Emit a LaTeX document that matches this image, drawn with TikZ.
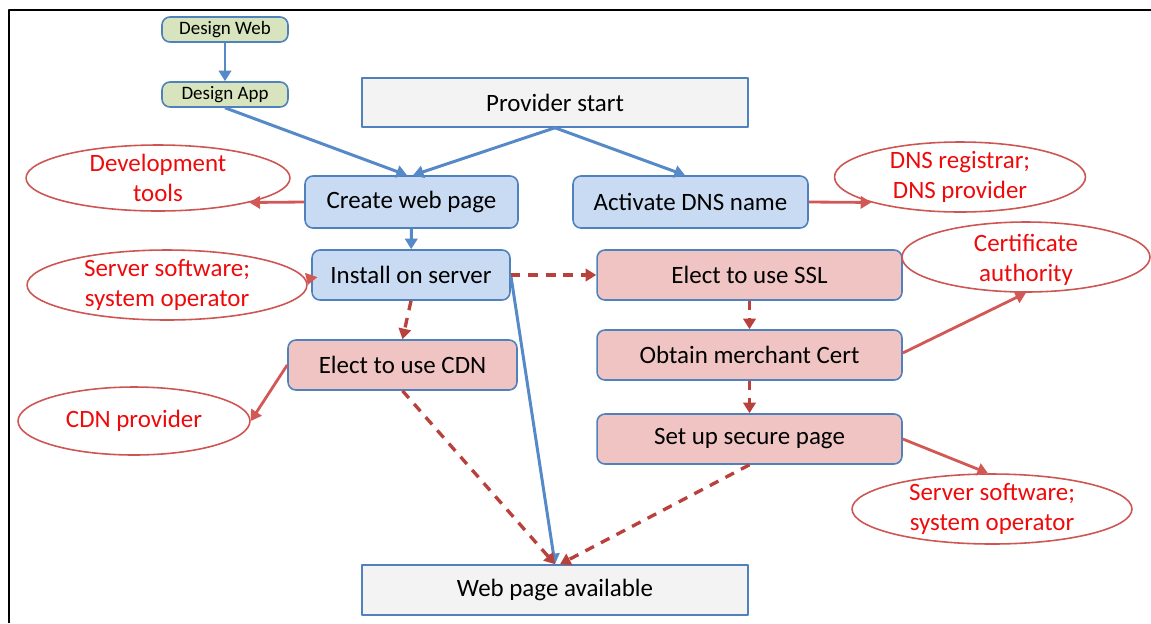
\documentclass[tikz,border=0pt]{standalone}
\usepackage{fontspec}
\setmainfont{Carlito}
\usetikzlibrary{shapes.geometric,arrows.meta}
\definecolor{boxline}{RGB}{79,129,189}
\definecolor{bluefill}{RGB}{201,219,243}
\definecolor{pinkfill}{RGB}{241,196,196}
\definecolor{greenfill}{RGB}{215,228,189}
\definecolor{grayfill}{RGB}{243,243,243}
\definecolor{flowblue}{RGB}{86,137,199}
\definecolor{reqred}{RGB}{210,88,85}
\definecolor{optred}{RGB}{185,65,60}
\definecolor{actorline}{RGB}{205,85,82}
\definecolor{actorred}{RGB}{238,10,10}
\begin{document}
\begin{tikzpicture}[x=0.02cm, y=-0.02cm, line join=round, >={Triangle[width=7pt,length=6pt]},
    font=\fontsize{14.2}{17}\selectfont,
    box/.style={draw=boxline, line width=0.9pt, rounded corners=4.5pt, minimum height=1cm, inner sep=0pt},
    bluebox/.style={box, fill=bluefill},
    pinkbox/.style={box, fill=pinkfill, minimum width=6.1cm},
    greenbox/.style={box, fill=greenfill, minimum width=2.52cm, minimum height=0.5cm, font=\fontsize{10.8}{13}\selectfont},
    graybox/.style={draw=boxline, line width=0.9pt, fill=grayfill, minimum width=7.72cm, minimum height=1cm},
    actor/.style={ellipse, draw=actorline, line width=0.9pt, inner sep=0pt, minimum height=1.4cm},
    actortext/.style={text=actorred, align=center},
    flowline/.style={->, draw=flowblue, line width=1.7pt},
    reqline/.style={->, draw=reqred, line width=1.6pt},
    optline/.style={->, draw=optred, line width=1.9pt, dash pattern=on 5.5pt off 4.5pt}]
    \useasboundingbox (0,0) rectangle (1151,623);
    \draw[line width=1.1pt] (9,623) -- (9,10) -- (1151,10);
    \node[greenbox] (dweb) at (225,29.5) {Design Web};
    \node[greenbox] (dapp) at (225,94.5) {Design App};
    \node[graybox, minimum height=0.98cm] (start) at (555,102.5) {Provider start};
    \node[bluebox, minimum width=4.26cm, minimum height=1.04cm] (create) at (411.5,202) {Create web page};
    \node[bluebox, minimum width=4.7cm, minimum height=1.04cm] (dns) at (690.5,202) {Activate DNS name};
    \node[bluebox, minimum width=3.96cm] (install) at (411,275) {Install on server};
    \node[pinkbox, minimum width=4.58cm] (cdn) at (402.5,365) {Elect to use CDN};
    \node[pinkbox] (ssl) at (749.5,275) {Elect to use SSL};
    \node[pinkbox] (merch) at (749.5,355) {Obtain merchant Cert};
    \node[pinkbox] (secure) at (749.5,439) {Set up secure page};
    \node[graybox] (avail) at (555,590) {Web page available};
    \node[actor, minimum width=5.28cm, minimum height=1.32cm, label={[actortext]center:{Development\\tools}}] (devtools) at (158,178) {};
    \node[actor, minimum width=5.6cm, label={[actortext]center:{Server software;\\system operator}}] (srvleft) at (167,285) {};
    \node[actor, minimum width=4.64cm, minimum height=1.36cm, label={[actortext]center:{CDN provider}}] (cdnprov) at (134,421) {};
    \node[actor, minimum width=5.02cm, label={[actortext]center:{DNS registrar;\\DNS provider}}] (dnsreg) at (960,177) {};
    \node[actor, minimum width=4.96cm, label={[actortext, yshift=-0.06cm]center:{Certificate\\authority}}] (ca) at (1026,257) {};
    \node[actor, minimum width=5.6cm, label={[actortext]center:{Server software;\\system operator}}] (srvright) at (992,509) {};
    \draw[flowline] (dweb) -- (dapp);
    \draw[flowline] (dapp.south) -- ([xshift=-0.09cm]create.north);
    \draw[flowline] (start.south) -- ([xshift=0.03cm]create.north);
    \draw[flowline] (start.south) -- ([xshift=-0.11cm]dns.north);
    \draw[flowline] (create) -- (install);
    \draw[flowline] (install.east) -- (avail.north);
    \draw[reqline] (create.west) -- (devtools.-15);
    \draw[reqline] (install.west) -- (srvleft.east);
    \draw[reqline] (cdn.west) -- (cdnprov.east);
    \draw[reqline] (dns.east) -- (dnsreg.196);
    \draw[reqline] ([yshift=0.04cm]merch.east) -- (ca.south);
    \draw[reqline] (secure.east) -- ([xshift=-0.08cm]srvright.north);
    \foreach \a/\b in {install.east/ssl.west, install.south/cdn.north, ssl/merch, merch/secure, cdn.south/avail.north}
    \draw[optline] (\a) -- (\b);
    \draw[optline] (secure.south) -- ([xshift=0.1cm]avail.north);
\end{tikzpicture}
\end{document}
